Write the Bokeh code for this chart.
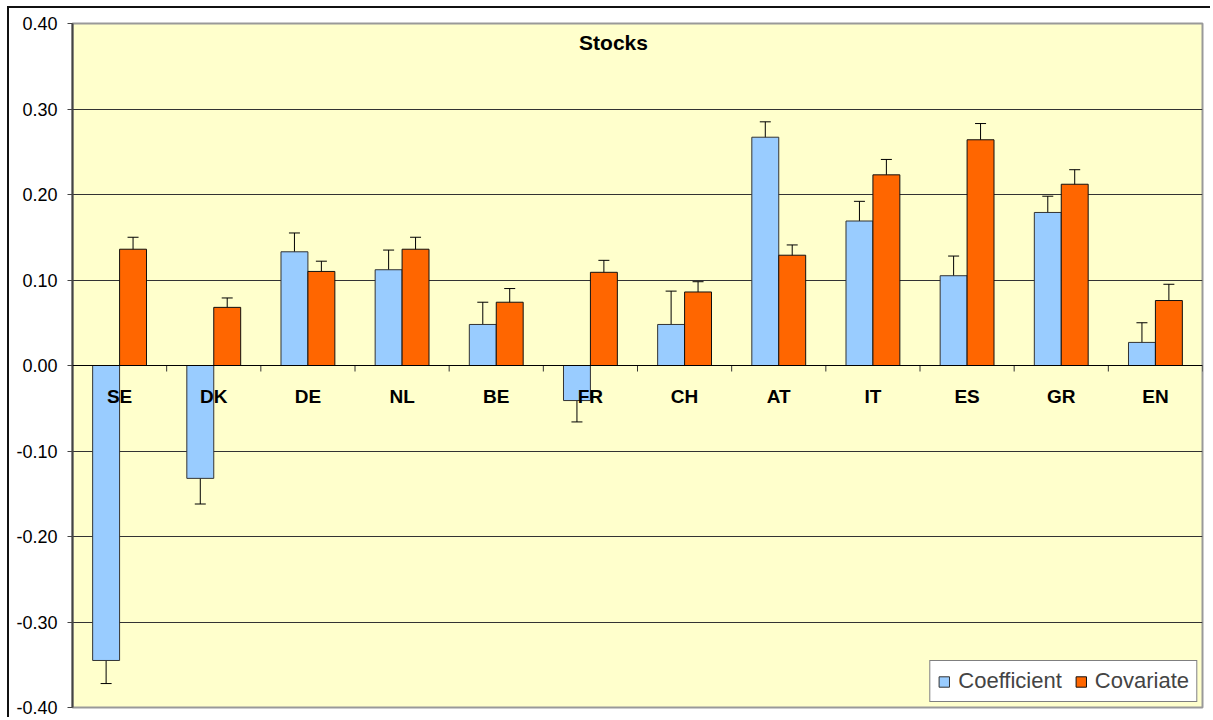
from bokeh.plotting import figure
from bokeh.models import Range1d, FixedTicker, NumeralTickFormatter, Span, Whisker, ColumnDataSource, TeeHead
from bokeh.core.properties import value
from bokeh.embed import file_html
from bokeh.resources import INLINE
import math

title = "Stocks"
countries = ["SE", "DK", "DE", "NL", "BE", "FR", "CH", "AT", "IT", "ES", "GR", "EN"]
coef = [-0.345, -0.132, 0.133, 0.112, 0.048, -0.041, 0.048, 0.267, 0.169, 0.105, 0.179, 0.027]
coef_lo = [-0.372, -0.162, 0.113, 0.089, 0.021, -0.066, 0.011, 0.246, 0.146, 0.082, 0.159, 0.004]
coef_hi = [-0.320, -0.100, 0.155, 0.135, 0.074, -0.015, 0.087, 0.285, 0.192, 0.128, 0.198, 0.050]
cov = [0.136, 0.068, 0.110, 0.136, 0.074, 0.109, 0.086, 0.129, 0.223, 0.264, 0.212, 0.076]
cov_lo = [0.122, 0.058, 0.098, 0.124, 0.057, 0.093, 0.074, 0.116, 0.206, 0.246, 0.198, 0.056]
cov_hi = [0.150, 0.079, 0.122, 0.150, 0.090, 0.123, 0.098, 0.141, 0.241, 0.283, 0.229, 0.095]
y_ticks = [-0.4, -0.3, -0.2, -0.1, 0.0, 0.1, 0.2, 0.3, 0.4]
series_names = ["Coefficient", "Covariate"]

n = len(countries)
bar_w = 0.286
centers = [i + 0.5 for i in range(n)]
x_coef = [c - bar_w / 2 for c in centers]
x_cov = [c + bar_w / 2 for c in centers]

FONT = "Liberation Sans"

p = figure(width=1203, height=711, output_backend="svg", toolbar_location=None,
           x_range=Range1d(0, n), y_range=Range1d(y_ticks[0], y_ticks[-1]),
           x_axis_location=None,
           min_border_left=63, min_border_top=15, min_border_right=10, min_border_bottom=12,
           background_fill_color="#FFFFCC", border_fill_color="white",
           styles={"margin-left": "7px", "margin-top": "6px",
                   "border-top": "2px solid #111", "border-left": "2px solid #111"})
p.outline_line_color = "#999999"
p.outline_line_width = 2

p.xgrid.visible = False
p.ygrid.ticker = FixedTicker(ticks=y_ticks)
p.ygrid.grid_line_color = "#333333"
p.ygrid.grid_line_width = 1

ya = p.yaxis[0]
ya.ticker = FixedTicker(ticks=y_ticks)
ya.formatter = NumeralTickFormatter(format="0.00")
ya.major_label_text_font = FONT
ya.major_label_text_font_size = "18px"
ya.major_label_text_color = "black"
ya.axis_line_color = "#444444"
ya.axis_line_width = 2
ya.major_tick_line_color = "#444444"
ya.major_tick_out = 5
ya.major_tick_in = 0
ya.minor_tick_line_color = None
ya.major_label_standoff = 10

p.vbar(x=x_coef, top=coef, bottom=0, width=bar_w, fill_color="#99CCFF",
       line_color="#333333", line_width=1, legend_label=series_names[0])
p.vbar(x=x_cov, top=cov, bottom=0, width=bar_w, fill_color="#FF6600",
       line_color="#111111", line_width=1, legend_label=series_names[1])

p.add_layout(Span(location=0, dimension="width", line_color="black", line_width=1))

# category boundary ticks below the zero line
p.ray(x=list(range(1, n + 1)), y=[0] * n, length=6, length_units="screen",
      angle=-math.pi / 2, line_color="#333333", line_width=1)

for xs, lo, hi in ((x_coef, coef_lo, coef_hi), (x_cov, cov_lo, cov_hi)):
    src = ColumnDataSource(dict(base=xs, lower=lo, upper=hi))
    p.add_layout(Whisker(source=src, base="base", lower="lower", upper="upper",
                         line_color="black", line_width=1,
                         upper_head=TeeHead(size=11, line_color="black", line_width=1),
                         lower_head=TeeHead(size=11, line_color="black", line_width=1)))

p.text(x=centers, y=[0] * n, text=countries, text_align="center", text_baseline="middle",
       y_offset=31, text_font=value(FONT), text_font_style="bold", text_font_size="19px",
       text_color="black")

p.text(x=[n / 2], y=[y_ticks[-1]], text=[title], text_align="center", text_baseline="middle",
       x_offset=-24, y_offset=19, text_font=value(FONT), text_font_style="bold",
       text_font_size="21px", text_color="black")

lg = p.legend[0]
lg.location = "bottom_right"
lg.orientation = "horizontal"
lg.margin = 5
lg.padding = 7
lg.spacing = 12
lg.glyph_width = 13
lg.glyph_height = 13
lg.label_standoff = 8
lg.label_height = 22
lg.label_text_font = FONT
lg.label_text_font_size = "22px"
lg.border_line_color = "black"
lg.border_line_width = 1
lg.background_fill_color = "white"
lg.background_fill_alpha = 1

open("out.html", "w").write(file_html(p, INLINE))
